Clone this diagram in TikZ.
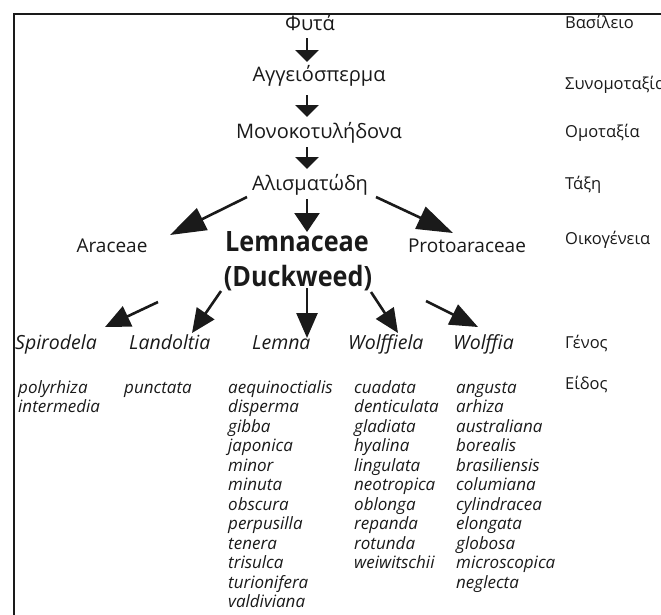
\documentclass[tikz,border=0pt]{standalone}
\usepackage{fontspec}
\setmainfont{Open Sans}
\usetikzlibrary{arrows.meta}
\definecolor{ink}{HTML}{1A1A1A}
\begin{document}
\begin{tikzpicture}[x=1pt,y=-1pt,
  txt/.style={inner sep=0pt, text=ink},
  mainlbl/.style={txt, font=\fontsize{20}{24}\selectfont, anchor=base},
  famlbl/.style={txt, font=\fontsize{19}{23}\selectfont, anchor=base},
  biglbl/.style={txt, font=\fontsize{28}{32}\selectfont\bfseries, anchor=base, xscale=0.9},
  ranklbl/.style={txt, font=\fontsize{16.5}{20}\selectfont, anchor=base west},
  genuslbl/.style={txt, font=\fontsize{19.5}{23}\selectfont\itshape, anchor=base west},
  speclbl/.style={txt, font=\fontsize{17}{19.5}\selectfont\itshape, anchor=base west},
  arr/.style n args={2}{draw=ink, line width=2.6pt, -{Triangle[length=#1pt,width=#2pt]}}
]
\useasboundingbox (0,0) rectangle (661,614);
\clip (0,0) rectangle (661,614);
\fill[white] (0,0) rectangle (661,614);
% frame
\draw[ink, line width=2.5pt] (14,720) -- (14,14) -- (720,14);

% main chain
\node[mainlbl] (fyta)  at (310,30)  {Φυτά};
\node[mainlbl] (angio) at (319,81)  {Αγγειόσπερμα};
\node[mainlbl] (mono)  at (319,138) {Μονοκοτυλήδονα};
\node[mainlbl] (alis)  at (310,190) {Αλισματώδη};
\node[famlbl]  (arac)  at (112,252) {Araceae};
\node[famlbl]  (proto) at (467,252) {Protoaraceae};
\node[biglbl]  (lemn)  at (297,251) {Lemnaceae};
\node[biglbl]  (duck)  at (298,286) {(Duckweed)};

% ranks
\node[ranklbl] (r1) at (565,28)  {Βασίλειο};
\node[ranklbl] (r2) at (565,89)  {Συνομοταξία};
\node[ranklbl] (r3) at (565,137) {Ομοταξία};
\node[ranklbl] (r4) at (565,189) {Τάξη};
\node[ranklbl] (r5) at (565,244) {Οικογένεια};
\node[ranklbl] (r6) at (565,348) {Γένος};
\node[ranklbl] (r7) at (565,389) {Είδος};

% genera
\node[genuslbl] (spir) at (15,349)  {Spirodela};
\node[genuslbl] (land) at (129,349) {Landoltia};
\node[genuslbl] (lemna) at (252,349) {Lemna};
\node[genuslbl] (wfla) at (348,349) {Wolffiela};
\node[genuslbl] (wfia) at (453,349) {Wolffia};

% species
\foreach \s [count=\i] in {polyrhiza,intermedia}
  \node[speclbl] (sp\i) at (18,{393+19.5*(\i-1)}) {\s};
\node[speclbl] (ld1) at (124,393) {punctata};
\foreach \s [count=\i] in {aequinoctialis,disperma,gibba,japonica,minor,minuta,obscura,perpusilla,tenera,trisulca,turionifera,valdiviana}
  \node[speclbl] (le\i) at (228,{393+19.5*(\i-1)}) {\s};
\foreach \s [count=\i] in {cuadata,denticulata,gladiata,hyalina,lingulata,neotropica,oblonga,repanda,rotunda,weiwitschii}
  \node[speclbl] (wl\i) at (354,{393+19.5*(\i-1)}) {\s};
\foreach \s [count=\i] in {angusta,arhiza,australiana,borealis,brasiliensis,columiana,cylindracea,elongata,globosa,microscopica,neglecta}
  \node[speclbl] (wf\i) at (456,{393+19.5*(\i-1)}) {\s};

% arrow end points
\coordinate (a1s) at (307,38);  \coordinate (a1e) at (307,62);
\coordinate (a2s) at (307,95);  \coordinate (a2e) at (307,117);
\coordinate (a3s) at (307,147); \coordinate (a3e) at (307,169);
\coordinate (acs) at (307,199); \coordinate (ace) at (307,232);
\coordinate (als) at (247,197); \coordinate (ale) at (170,235);
\coordinate (ars) at (376,197); \coordinate (are) at (453,233);
\coordinate (g1s) at (158,302); \coordinate (g1e) at (105,327);
\coordinate (g2s) at (221,291); \coordinate (g2e) at (192,333);
\coordinate (g3s) at (307,288); \coordinate (g3e) at (307,338);
\coordinate (g4s) at (371,292); \coordinate (g4e) at (398,333);
\coordinate (g5s) at (426,301); \coordinate (g5e) at (478,327);

\draw[arr={12}{23}] (a1s) -- (a1e);
\draw[arr={12}{23}] (a2s) -- (a2e);
\draw[arr={12}{23}] (a3s) -- (a3e);
\draw[arr={19}{25}] (acs) -- (ace);
\draw[arr={36}{24}] (als) -- (ale);
\draw[arr={36}{24}] (ars) -- (are);
\draw[arr={25}{22}] (g1s) -- (g1e);
\draw[arr={24}{21}] (g2s) -- (g2e);
\draw[arr={25}{21}] (g3s) -- (g3e);
\draw[arr={24}{21}] (g4s) -- (g4e);
\draw[arr={28}{22}] (g5s) -- (g5e);
\end{tikzpicture}
\end{document}
